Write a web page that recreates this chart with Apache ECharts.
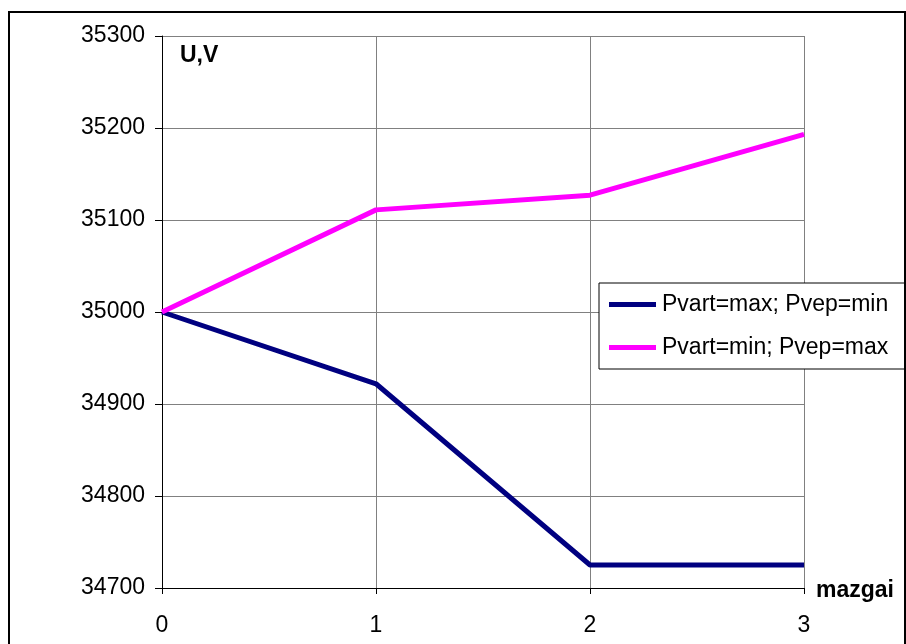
<!DOCTYPE html>
<html>
<head>
<meta charset="utf-8">
<script src="https://cdn.jsdelivr.net/npm/echarts@6/dist/echarts.min.js"></script>
<style>html,body{margin:0;padding:0;background:#fff}#c{width:906px;height:644px}</style>
</head>
<body>
<div id="c"></div>
<script>
var nodes = [0, 1, 2, 3];
var seriesNames = ['Pvart=max; Pvep=min', 'Pvart=min; Pvep=max'];
var seriesMaxMin = [35000, 34922, 34725, 34725];
var seriesMinMax = [35000, 35111, 35127, 35193];
var yMin = 34700, yMax = 35300, yStep = 100;

var chart = echarts.init(document.getElementById('c'), null, {renderer: 'canvas'});
var font = 'Arial, "Liberation Sans", sans-serif';
chart.setOption({
  animation: false,
  backgroundColor: '#fff',
  grid: {left: 162, top: 36, right: 102, bottom: 56, containLabel: false},
  xAxis: {
    type: 'value', min: 0, max: 3, interval: 1,
    axisLine: {show: true, lineStyle: {color: '#000', width: 1}},
    axisTick: {show: true, length: 6, lineStyle: {color: '#000'}},
    axisLabel: {color: '#000', fontSize: 23, fontFamily: font, margin: 26},
    splitLine: {show: true, lineStyle: {color: '#808080', width: 1}}
  },
  yAxis: {
    type: 'value', min: yMin, max: yMax, interval: yStep,
    axisLine: {show: true, lineStyle: {color: '#000', width: 1}},
    axisTick: {show: true, length: 7, lineStyle: {color: '#000'}},
    axisLabel: {color: '#000', fontSize: 23, fontFamily: font, margin: 17,
                formatter: function (v) { return String(v); }},
    splitLine: {show: true, lineStyle: {color: '#808080', width: 1}}
  },
  legend: {
    orient: 'vertical', left: 599, top: 283,
    backgroundColor: '#fff', borderColor: '#000', borderWidth: 1,
    padding: [10, 40, 10, 10], itemGap: 20,
    itemWidth: 47, itemHeight: 5, icon: 'rect',
    textStyle: {color: '#000', fontSize: 23, fontFamily: font, padding: [0, 0, 0, 1]},
    data: seriesNames
  },
  series: [
    {name: seriesNames[0], type: 'line', data: nodes.map(function(x, i){return [x, seriesMaxMin[i]];}),
     showSymbol: false, symbol: 'none', lineStyle: {color: '#000080', width: 5}, itemStyle: {color: '#000080'}},
    {name: seriesNames[1], type: 'line', data: nodes.map(function(x, i){return [x, seriesMinMax[i]];}),
     showSymbol: false, symbol: 'none', lineStyle: {color: '#ff00ff', width: 5}, itemStyle: {color: '#ff00ff'}}
  ],
  graphic: [
    {type: 'rect', shape: {x: 9, y: 12, width: 896, height: 660}, style: {fill: 'none', stroke: '#000', lineWidth: 2}, z: 100},
    {type: 'text', left: 180, top: 44, style: {text: 'U,V', fill: '#000', font: 'bold 23px ' + font}},
    {type: 'text', left: 816, top: 579, style: {text: 'mazgai', fill: '#000', font: 'bold 23px ' + font}}
  ]
});
</script>
</body>
</html>
